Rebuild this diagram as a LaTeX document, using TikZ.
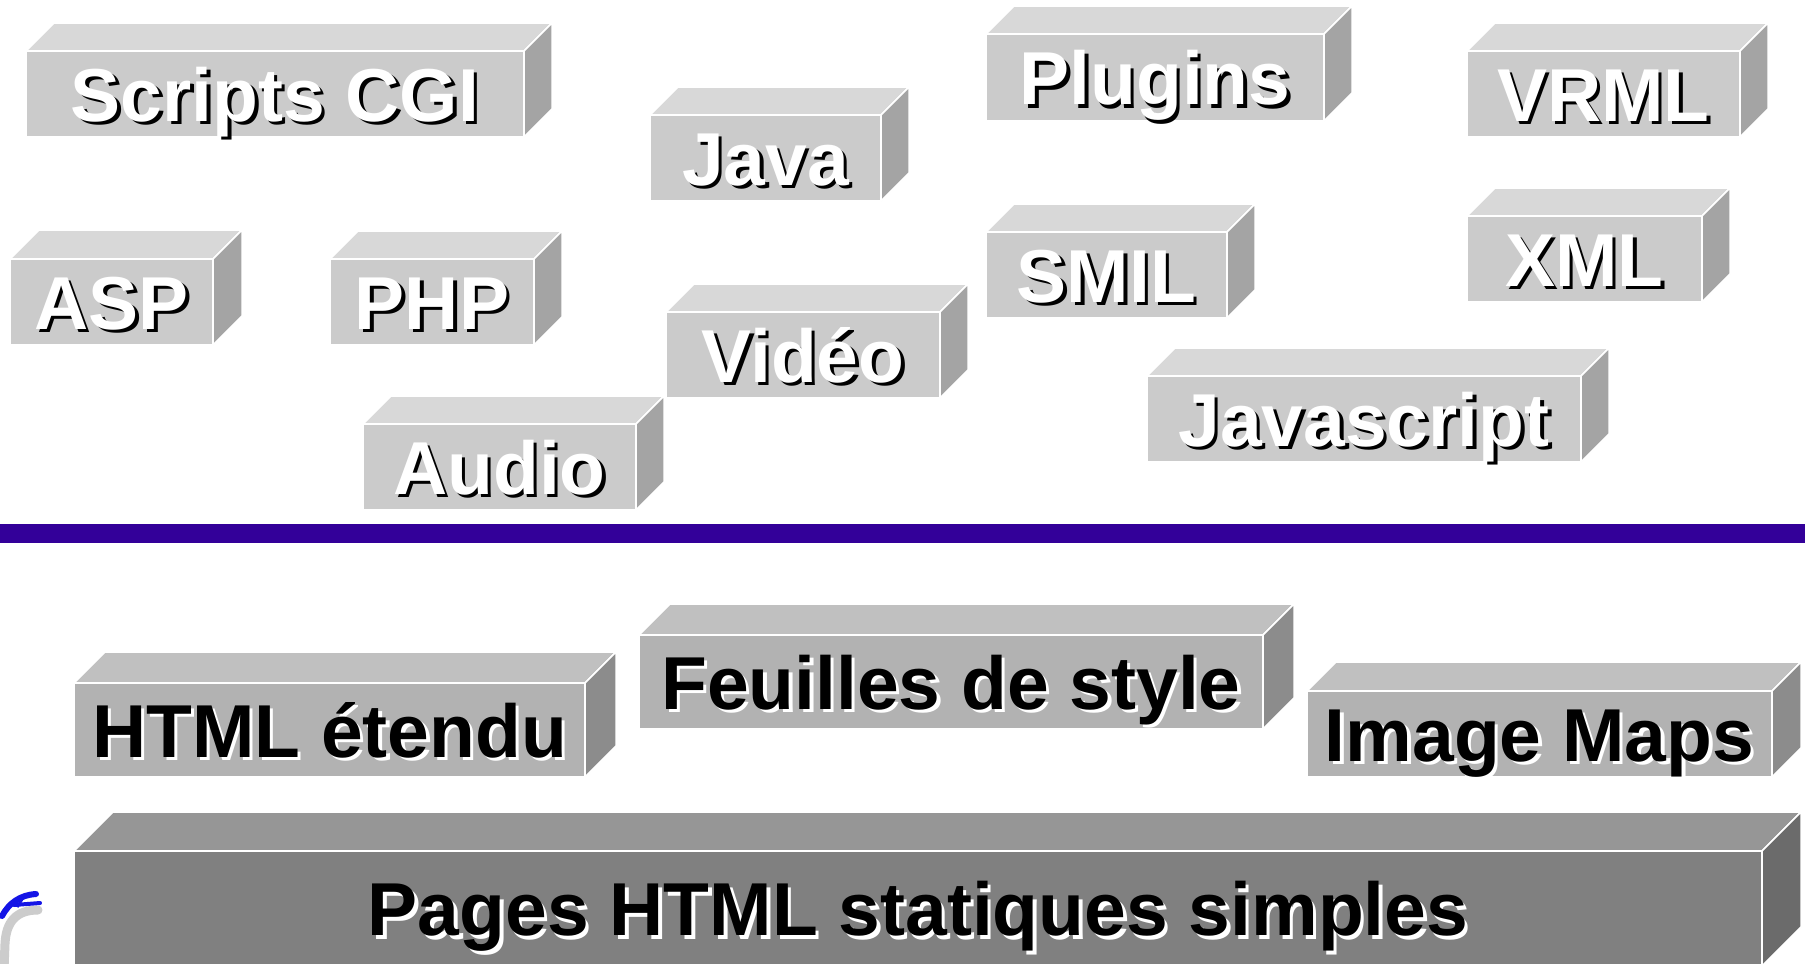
\documentclass[tikz,border=0pt]{standalone}
\usepackage{fontspec}
\setmainfont{Liberation Sans}
\definecolor{utop}{HTML}{D8D8D8}
\definecolor{ufront}{HTML}{CBCBCB}
\definecolor{uside}{HTML}{A4A4A4}
\definecolor{ltop}{HTML}{C0C0C0}
\definecolor{lfront}{HTML}{B2B2B2}
\definecolor{lside}{HTML}{8C8C8C}
\definecolor{btop}{HTML}{969696}
\definecolor{bfront}{HTML}{808080}
\definecolor{bside}{HTML}{6B6B6B}
\definecolor{rulecol}{HTML}{330099}
\definecolor{logoblue}{HTML}{1414E6}
\tikzset{
  face/.style={draw=white,line width=1.5pt,line join=round},
  lbl/.style={font=\bfseries\fontsize{75}{80}\selectfont,inner sep=0pt,text height=54pt,text depth=0pt,anchor=center},
  wtxt/.style={lbl,text=white},
  wsh/.style={lbl,text=black},
  ktxt/.style={lbl,text=black},
  ksh/.style={lbl,text=white},
}
% #1 name, #2 x1, #3 y1, #4 x2, #5 y2, #6 depth, #7 palette, #8 text kind, #9 text
\newcommand\blockbox[9]{%
  \filldraw[face,fill=#7top] (#2,#3) -- (#2+#6,#3-#6) -- (#4+#6,#3-#6) -- (#4,#3) -- cycle;
  \filldraw[face,fill=#7side] (#4,#3) -- (#4+#6,#3-#6) -- (#4+#6,#5-#6) -- (#4,#5) -- cycle;
  \filldraw[face,fill=#7front] (#2,#3) rectangle (#4,#5);
  \node[#8sh] (#1s) at ({(#2+#4)/2+3.5},{(#3+#5)/2+3.5}) {#9};
  \node[#8txt] (#1) at ({(#2+#4)/2},{(#3+#5)/2}) {#9};
}
\begin{document}
\begin{tikzpicture}[x=1pt,y=-1pt]
\clip (0,0) rectangle (1805,964);
\fill[white] (0,0) rectangle (1805,964);
% upper layer
\blockbox{cgi}{26}{51}{524}{137}{28}{u}{w}{Scripts CGI}
\blockbox{java}{650}{115}{881}{201}{28}{u}{w}{Java}
\blockbox{plugins}{986}{34}{1324}{121}{28}{u}{w}{Plugins}
\blockbox{vrml}{1467}{51}{1740}{137}{28}{u}{w}{VRML}
\blockbox{asp}{10}{259}{213}{345}{29}{u}{w}{ASP}
\blockbox{php}{330}{259}{534}{345}{28}{u}{w}{PHP}
\blockbox{smil}{986}{232}{1227}{318}{28}{u}{w}{SMIL}
\blockbox{xml}{1467}{216}{1702}{302}{28}{u}{w}{XML}
\blockbox{video}{666}{312}{940}{398}{28}{u}{w}{Vidéo}
\blockbox{js}{1147}{376}{1581}{462}{28}{u}{w}{Javascript}
\blockbox{audio}{363}{424}{636}{510}{28}{u}{w}{Audio}
% separator
\fill[rulecol] (0,524) rectangle (1805,543);
% lower layer
\blockbox{html}{74}{683}{585}{777}{31}{l}{k}{HTML étendu}
\blockbox{css}{639}{635}{1263}{729}{31}{l}{k}{Feuilles de style}
\blockbox{maps}{1307}{691}{1772}{777}{29}{l}{k}{Image Maps}
\blockbox{pages}{74}{851}{1762}{966}{39}{b}{k}{Pages HTML statiques simples}
% logo fragment
\draw[gray!40,line width=9pt,line cap=round] (38,910) .. controls (16,910) and (6,922) .. (5,944) -- (4,970);
\draw[logoblue,line width=6pt,line cap=round] (2,916) .. controls (9,903) and (20,895) .. (36,894);
\draw[logoblue,line width=4pt,line cap=round] (14,905) -- (40,903);
\draw[logoblue,line width=3pt] (24,896) -- (17,907);
\end{tikzpicture}
\end{document}
